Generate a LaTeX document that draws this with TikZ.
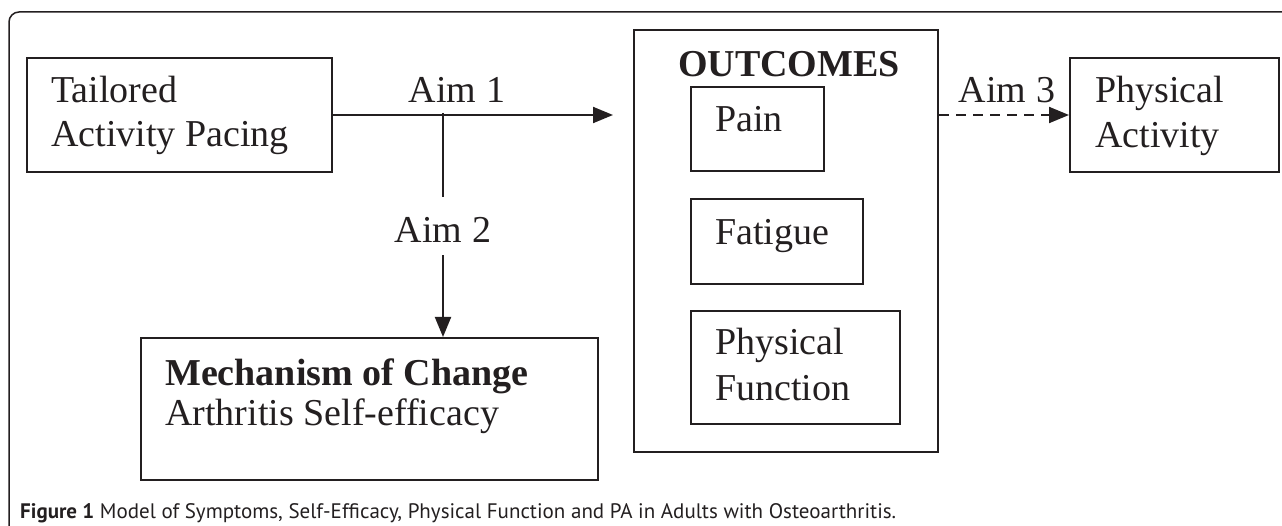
\documentclass[tikz,border=0pt]{standalone}
\usepackage{fontspec}
\setmainfont{Liberation Serif}
\newfontfamily\capfont{PT Sans}
\usetikzlibrary{arrows.meta}
\definecolor{ink}{HTML}{231F20}
\tikzset{
  box/.style={draw=ink, line width=2pt, inner sep=0pt, anchor=north west},
  txt/.style={text=ink, inner sep=0pt, anchor=base west, font=\fontsize{38}{44}\selectfont},
  bold/.style={txt, font=\fontsize{38}{44}\selectfont\bfseries},
  lbl/.style={txt, anchor=base},
  link/.style={draw=ink, line width=2pt, -{Triangle[length=20pt,width=16pt]}},
}
\begin{document}
\begin{tikzpicture}[x=1pt,y=-1pt]
\useasboundingbox (0,0) rectangle (1282,526);
% outer frame
\draw[ink, line width=1.5pt, rounded corners=10pt] (9,526) -- (9,12) -- (1282,12);
% boxes
\node[box, minimum width=305pt, minimum height=114pt] (tap) at (26,57) {};
\node[txt] (tap1) at (51,103) {Tailored};
\node[txt] (tap2) at (51,147) {Activity Pacing};

\node[box, minimum width=304pt, minimum height=422pt] (out) at (633,29) {};
\node[bold] (outt) at (678,77) {OUTCOMES};
\node[box, minimum width=133pt, minimum height=84pt] (pain) at (690,86) {};
\node[txt] (paint) at (715,132) {Pain};
\node[box, minimum width=172pt, minimum height=85pt] (fat) at (690,198) {};
\node[txt] (fatt) at (715,245) {Fatigue};
\node[box, minimum width=209pt, minimum height=113pt] (pf) at (690,310) {};
\node[txt] (pf1) at (715,355) {Physical};
\node[txt] (pf2) at (715,400) {Function};

\node[box, minimum width=209pt, minimum height=114pt] (pa) at (1069,57) {};
\node[txt] (pa1) at (1095,103) {Physical};
\node[txt] (pa2) at (1095,148) {Activity};

\node[box, minimum width=457pt, minimum height=142pt] (mech) at (140,337) {};
\node[bold] (mech1) at (165,385) {Mechanism of Change};
\node[txt] (mech2) at (165,425) {Arthritis Self-efficacy};

% labels
\node[lbl] (aim1) at (457,103) {Aim 1};
\node[lbl, text height=46pt, text depth=12pt] (aim2) at (443,243) {Aim 2};
\node[lbl] (aim3) at (1007,103) {Aim 3};

% connectors
\coordinate (j) at (443,113);
\draw[link, shorten >=20pt] (tap.east) -- (tap.east -| out.west);
\draw[draw=ink, line width=2pt] (j) -- (aim2.north);
\draw[link] (aim2.south) -- (aim2.south |- mech.north);
\draw[link, dash pattern=on 10pt off 7pt] (pa.west -| out.east) -- (pa.west);

% caption
\node[text=ink, inner sep=0pt, anchor=base west, font=\capfont\fontsize{21}{24}\selectfont] (cap) at (20,518)
  {\textbf{Figure 1} Model of Symptoms, Self-Efficacy, Physical Function and PA in Adults with Osteoarthritis.};
\end{tikzpicture}
\end{document}
